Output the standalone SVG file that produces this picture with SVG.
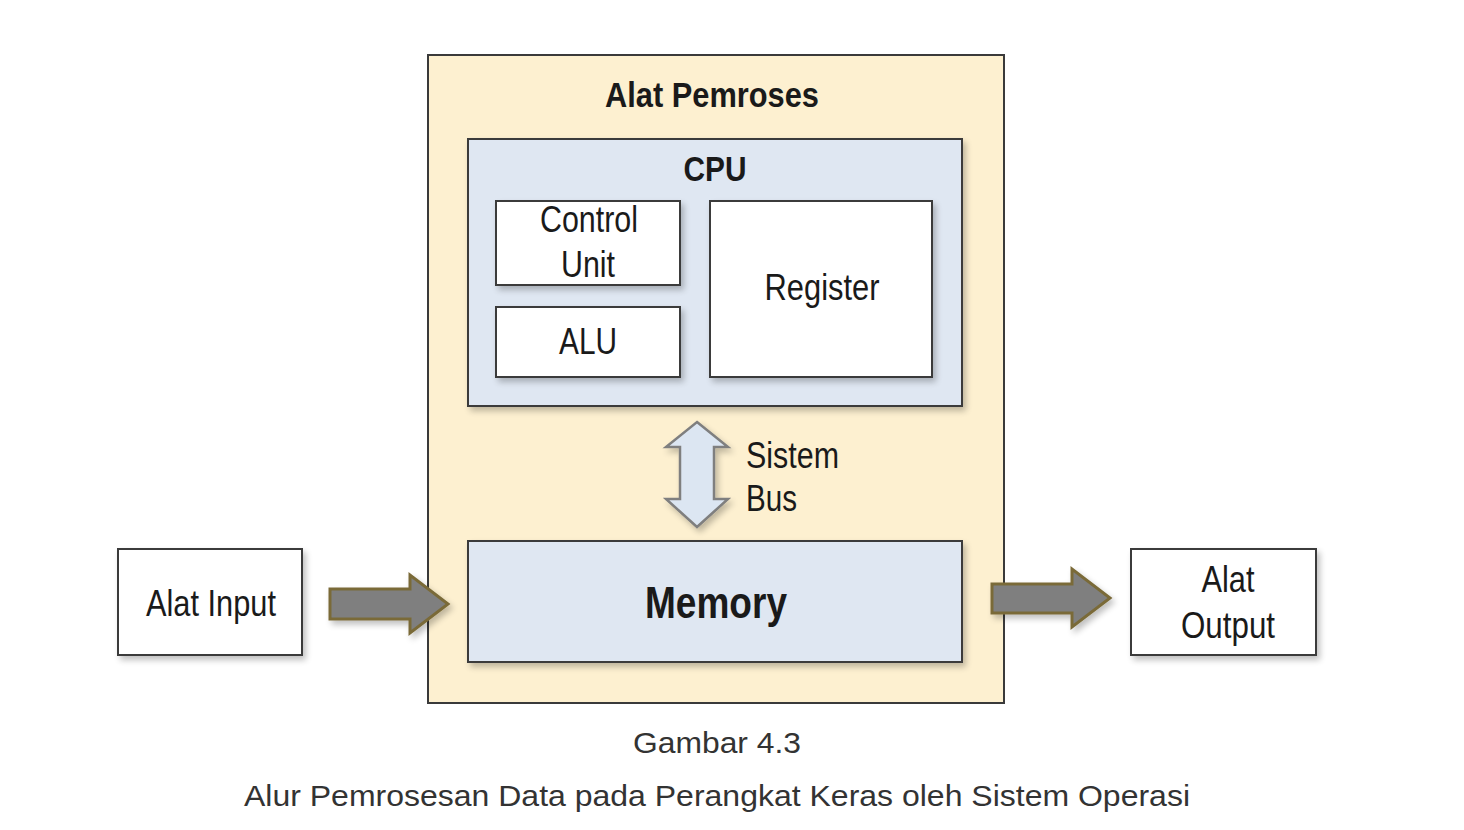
<svg xmlns="http://www.w3.org/2000/svg" width="1464" height="830" viewBox="0 0 1464 830">
<defs>
<filter id="sh" x="-10%" y="-10%" width="130%" height="130%">
<feGaussianBlur in="SourceAlpha" stdDeviation="3"/>
<feOffset dx="3" dy="4" result="b"/>
<feComponentTransfer><feFuncA type="linear" slope="0.25"/></feComponentTransfer>
<feMerge><feMergeNode/><feMergeNode in="SourceGraphic"/></feMerge>
</filter>
<style>
.box{stroke:#3a3a3a;stroke-width:2}
.t{font-family:"Liberation Sans",Arial,sans-serif;fill:#1a1a1a;text-anchor:middle}
.s{font-family:"Liberation Sans",Arial,sans-serif;fill:#1a1a1a;text-anchor:start}
.b{font-weight:bold}
.cap{font-family:"Liberation Sans",Arial,sans-serif;fill:#333;text-anchor:middle;font-size:30px}
.fat{fill:#7f7f7f;stroke:#7a6a38;stroke-width:3;stroke-linejoin:miter}
</style>
</defs>
<rect width="1464" height="830" fill="#fff"/>
<g id="alat-pemroses">
<rect class="box" x="428" y="55" width="576" height="648" fill="#fdf0d0"/>
<text class="t b" x="712" y="107" font-size="35" textLength="214" lengthAdjust="spacingAndGlyphs">Alat Pemroses</text>
</g>
<g id="cpu">
<rect class="box" x="468" y="139" width="494" height="267" fill="#dfe7f2" filter="url(#sh)"/>
<text class="t b" x="715" y="181" font-size="35" textLength="63" lengthAdjust="spacingAndGlyphs">CPU</text>
</g>
<g id="control-unit">
<rect class="box" x="496" y="201" width="184" height="84" fill="#fff" filter="url(#sh)"/>
<text class="t" x="589" y="232" font-size="36" textLength="98" lengthAdjust="spacingAndGlyphs">Control</text>
<text class="t" x="588" y="277" font-size="36" textLength="54" lengthAdjust="spacingAndGlyphs">Unit</text>
</g>
<g id="alu">
<rect class="box" x="496" y="307" width="184" height="70" fill="#fff" filter="url(#sh)"/>
<text class="t" x="588" y="354" font-size="36" textLength="58" lengthAdjust="spacingAndGlyphs">ALU</text>
</g>
<g id="register">
<rect class="box" x="710" y="201" width="222" height="176" fill="#fff" filter="url(#sh)"/>
<text class="t" x="822" y="300" font-size="36" textLength="115" lengthAdjust="spacingAndGlyphs">Register</text>
</g>
<g id="memory">
<rect class="box" x="468" y="541" width="494" height="121" fill="#dfe7f2" filter="url(#sh)"/>
<text class="t b" x="716" y="618" font-size="44" textLength="142" lengthAdjust="spacingAndGlyphs">Memory</text>
</g>
<g id="alat-input">
<rect class="box" x="118" y="549" width="184" height="106" fill="#fff" filter="url(#sh)"/>
<text class="t" x="211" y="616" font-size="36" textLength="130" lengthAdjust="spacingAndGlyphs">Alat Input</text>
</g>
<g id="alat-output">
<rect class="box" x="1131" y="549" width="185" height="106" fill="#fff" filter="url(#sh)"/>
<text class="t" x="1228" y="592" font-size="36" textLength="53" lengthAdjust="spacingAndGlyphs">Alat</text>
<text class="t" x="1228" y="638" font-size="36" textLength="94" lengthAdjust="spacingAndGlyphs">Output</text>
</g>
<g id="connectors">
<path class="fat" filter="url(#sh)" d="M330,589 H410 V575 L448,604 L410,633 V619 H330 Z"/>
<path class="fat" filter="url(#sh)" d="M992,584 H1072 V569 L1110,598 L1072,627 V613 H992 Z"/>
<path filter="url(#sh)" fill="#dce6f2" stroke="#7f7f7f" stroke-width="2.5" stroke-linejoin="miter" d="M697,422 L728,447 H714 V499 H728 L697,527 L666,499 H680 V447 H666 Z"/>
<text class="s" x="746" y="468" font-size="36" textLength="93" lengthAdjust="spacingAndGlyphs">Sistem</text>
<text class="s" x="746" y="511" font-size="36" textLength="51" lengthAdjust="spacingAndGlyphs">Bus</text>
</g>
<g id="caption">
<text class="cap" x="717" y="753" textLength="168" lengthAdjust="spacingAndGlyphs">Gambar 4.3</text>
<text class="cap" x="717" y="806" textLength="946" lengthAdjust="spacingAndGlyphs">Alur Pemrosesan Data pada Perangkat Keras oleh Sistem Operasi</text>
</g>
</svg>
